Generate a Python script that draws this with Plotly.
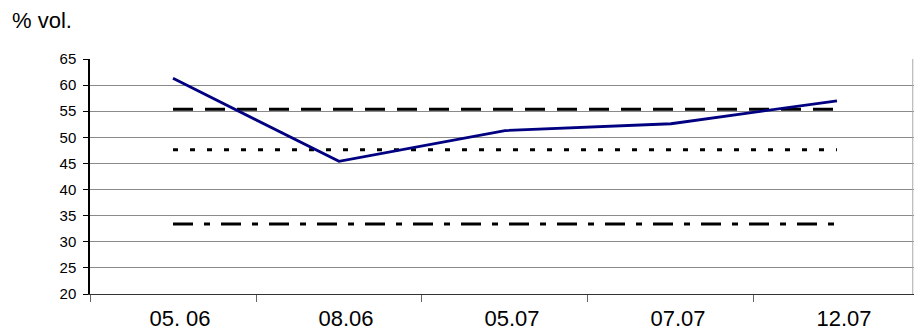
import plotly.graph_objects as go

categories = ["05. 06", "08.06", "05.07", "07.07", "12.07"]
measured = [61.3, 45.4, 51.3, 52.6, 57.0]
upper_limit = [55.4] * 5
mid_limit = [47.6] * 5
lower_limit = [33.4] * 5
y_ticks = [20, 25, 30, 35, 40, 45, 50, 55, 60, 65]

fig = go.Figure()
fig.add_trace(go.Scatter(x=categories, y=upper_limit, mode="lines",
                         line=dict(color="black", width=3, dash="20px,12px")))
fig.add_trace(go.Scatter(x=categories, y=mid_limit, mode="lines",
                         line=dict(color="black", width=3, dash="5px,12px")))
fig.add_trace(go.Scatter(x=categories, y=lower_limit, mode="lines",
                         line=dict(color="black", width=3, dash="20px,11px,6px,11px")))
fig.add_trace(go.Scatter(x=categories, y=measured, mode="lines",
                         line=dict(color="#000080", width=2.8)))

fig.update_layout(
    width=915, height=333,
    margin=dict(l=90, r=1, t=59, b=39),
    paper_bgcolor="white", plot_bgcolor="white",
    showlegend=False,
    font=dict(family="Liberation Sans, Arial", color="black"),
    annotations=[dict(text="% vol.", xref="paper", yref="paper",
                      x=(10 - 90) / 824, y=(294 - 20) / 235,
                      showarrow=False, font=dict(size=22),
                      xanchor="left", yanchor="middle")],
)
fig.update_xaxes(type="category", range=[-0.5, 4.464], tickson="boundaries",
                 ticks="outside", ticklen=7, tickcolor="#666", showgrid=False,
                 showline=True, linecolor="#333", linewidth=1.3,
                 tickfont=dict(size=22), zeroline=False, automargin=False,
                 ticklabelstandoff=4, ticklabelshift=7)
fig.update_yaxes(range=[20, 65], tickvals=y_ticks, ticks="outside", ticklen=5,
                 tickcolor="black", showline=True, linecolor="black", linewidth=1.5,
                 gridcolor="#8a8a8a", gridwidth=1.3, tickfont=dict(size=15),
                 zeroline=False, automargin=False, ticklabelstandoff=4)
# right border of plot area
fig.add_shape(type="line", xref="paper", yref="paper", x0=0.9985, x1=0.9985, y0=0, y1=1,
              line=dict(color="#aaaaaa", width=1))
fig.write_html("out.html", config={"displayModeBar": False},
               post_script="document.body.style.margin='0';document.body.style.overflow='hidden';")
